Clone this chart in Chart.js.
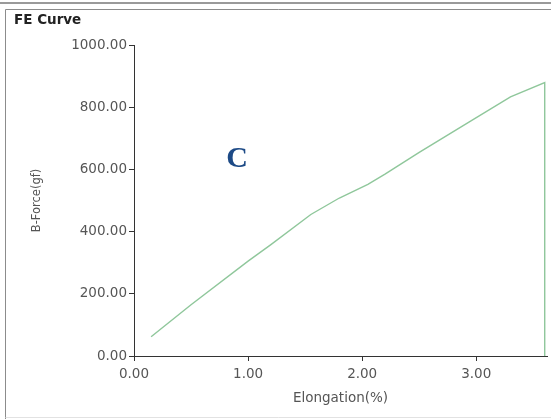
<!DOCTYPE html>
<html>
<head>
<meta charset="utf-8">
<script src="https://cdn.jsdelivr.net/npm/chart.js@4/dist/chart.umd.min.js"></script>
<style>
  html, body { margin: 0; padding: 0; background: #fff; }
  #feChart { display: block; }
</style>
</head>
<body>
<canvas id="feChart" width="551" height="419"></canvas>
<script>
// values
const elongation = [0.15, 0.50, 1.00, 1.20, 1.55, 1.80, 2.05, 2.20, 2.50, 2.95, 3.30, 3.60, 3.60];
const force = [62, 165, 305, 358, 455, 508, 552, 585, 655, 755, 833, 879, 0];
const xTicks = [0, 1, 2, 3];
const yTicks = [0, 200, 400, 600, 800, 1000];

const chartTitle = 'FE Curve';
const panelMark = 'C';

const tickFont = { family: 'DejaVu Sans', size: 13.5 };
const tickColor = '#555';
const axisColor = '#333';

const points = elongation.map((x, i) => ({ x: x, y: force[i] }));

// frame, title and the big letter
const decorations = {
    id: 'decorations',
    beforeDraw(chart) {
        const ctx = chart.ctx;
        ctx.save();
        ctx.fillStyle = '#fff';
        ctx.fillRect(0, 0, chart.width, chart.height);
        ctx.strokeStyle = '#9a9a9a';
        ctx.lineWidth = 2;
        ctx.beginPath();
        ctx.moveTo(0, 3);
        ctx.lineTo(chart.width, 3);
        ctx.stroke();
        ctx.strokeStyle = '#8c8c8c';
        ctx.lineWidth = 1;
        ctx.beginPath();
        ctx.moveTo(chart.width, 9.5);
        ctx.lineTo(5.5, 9.5);
        ctx.lineTo(5.5, 419);
        ctx.stroke();
        ctx.strokeStyle = '#e2e2e2';
        ctx.beginPath();
        ctx.moveTo(5.5, 417.5);
        ctx.lineTo(chart.width, 417.5);
        ctx.stroke();
        ctx.restore();
    },
    afterDraw(chart) {
        const ctx = chart.ctx;
        ctx.save();
        ctx.fillStyle = '#222';
        ctx.font = 'bold 13.5px "DejaVu Sans"';
        ctx.textBaseline = 'middle';
        ctx.fillText(chartTitle, 14, 20);
        ctx.fillStyle = '#1d4a86';
        ctx.font = 'bold 30px "Liberation Serif"';
        ctx.textAlign = 'center';
        ctx.textBaseline = 'alphabetic';
        ctx.fillText(panelMark, 237, 167);
        ctx.restore();
    }
};

new Chart(document.getElementById('feChart'), {
    type: 'scatter',
    data: {
        datasets: [{
            data: points,
            showLine: true,
            borderColor: '#8fc79b',
            borderWidth: 1.4,
            pointRadius: 0,
            tension: 0,
            fill: false
        }]
    },
    options: {
        responsive: false,
        animation: false,
        devicePixelRatio: 1,
        layout: { padding: { left: 10, right: 4, top: 45, bottom: 10 } },
        plugins: {
            legend: { display: false },
            tooltip: { enabled: false }
        },
        scales: {
            x: {
                type: 'linear',
                min: 0,
                max: 3.62,
                afterBuildTicks(scale) {
                    scale.ticks = xTicks.map(v => ({ value: v }));
                },
                afterFit(scale) { scale.height = 53; },
                border: { display: true, color: axisColor, width: 1 },
                grid: { drawOnChartArea: false, drawTicks: true, tickLength: 5, tickColor: axisColor },
                ticks: {
                    color: tickColor,
                    font: tickFont,
                    padding: 5,
                    maxRotation: 0,
                    callback: v => v.toFixed(2)
                },
                title: {
                    display: true,
                    text: 'Elongation(%)',
                    color: tickColor,
                    font: { family: 'DejaVu Sans', size: 13.5 },
                    padding: { top: 0, bottom: 2 }
                }
            },
            y: {
                type: 'linear',
                min: 0,
                max: 1000,
                afterBuildTicks(scale) {
                    scale.ticks = yTicks.map(v => ({ value: v }));
                },
                afterFit(scale) { scale.width = 124; },
                border: { display: true, color: axisColor, width: 1 },
                grid: { drawOnChartArea: false, drawTicks: true, tickLength: 5, tickColor: axisColor },
                ticks: {
                    color: tickColor,
                    font: tickFont,
                    padding: 2,
                    callback: v => v.toFixed(2)
                },
                title: {
                    display: true,
                    text: 'B-Force(gf)',
                    color: tickColor,
                    font: { family: 'DejaVu Sans', size: 11.5 },
                    padding: { top: 20, bottom: 0 }
                }
            }
        }
    },
    plugins: [decorations]
});
</script>
</body>
</html>
